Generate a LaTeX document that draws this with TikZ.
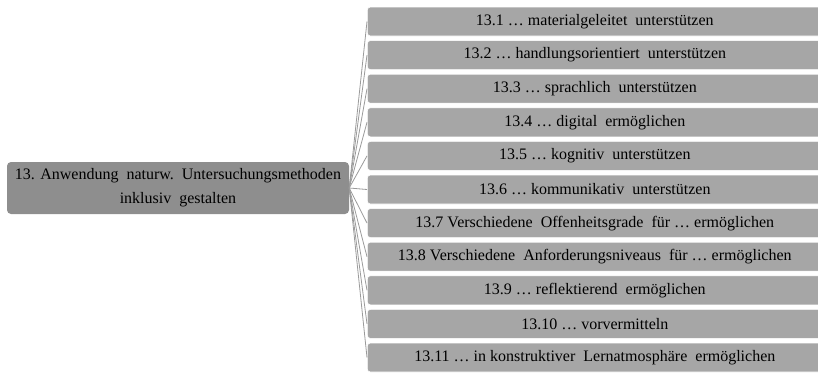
\documentclass[tikz,border=0pt]{standalone}
\usepackage{fontspec}
\setmainfont{Liberation Serif}
\definecolor{boxgray}{HTML}{A6A6A6}
\definecolor{rootgray}{HTML}{8E8E8E}
\definecolor{linegray}{HTML}{9A9A9A}
\begin{document}
\begin{tikzpicture}[x=1pt,y=-1pt,
  leaf/.style={fill=boxgray, draw=white, line width=0.6pt, rounded corners=3pt, minimum width=455pt, minimum height=29pt, inner sep=0pt, anchor=west, font=\fontsize{16}{18}\selectfont, text=black},
  root/.style={fill=rootgray, draw=none, rounded corners=4pt, minimum width=342pt, minimum height=52pt, inner sep=0pt, align=center, font=\fontsize{16}{24}\selectfont, text=black},
  conn/.style={draw=linegray, line width=0.8pt}]
\useasboundingbox (0,0) rectangle (818,372);
\node[root] (r) at (178,188) {13. Anwendung\ \ naturw.\ \ Untersuchungsmethoden\\inklusiv\ \ gestalten};
\foreach \i/\t in {1/{13.1 \dots\ materialgeleitet\ \ unterstützen},
                   2/{13.2 \dots\ handlungsorientiert\ \ unterstützen},
                   3/{13.3 \dots\ sprachlich\ \ unterstützen},
                   4/{13.4 \dots\ digital\ \ ermöglichen},
                   5/{13.5 \dots\ kognitiv\ \ unterstützen},
                   6/{13.6 \dots\ kommunikativ\ \ unterstützen},
                   7/{13.7 Verschiedene\ \ Offenheitsgrade\ \ für \dots\ ermöglichen},
                   8/{13.8 Verschiedene\ \ Anforderungsniveaus\ \ für \dots\ ermöglichen},
                   9/{13.9 \dots\ reflektierend\ \ ermöglichen},
                   10/{13.10 \dots\ vorvermitteln},
                   11/{13.11 \dots\ in konstruktiver\ \ Lernatmosphäre\ \ ermöglichen}}{
  \pgfmathsetmacro{\yy}{21.5+33.6*(\i-1)}
  \node[leaf] (n\i) at (367,\yy) {\t};
  \draw[conn] (r.east) -- (n\i.west);
}
\end{tikzpicture}
\end{document}
